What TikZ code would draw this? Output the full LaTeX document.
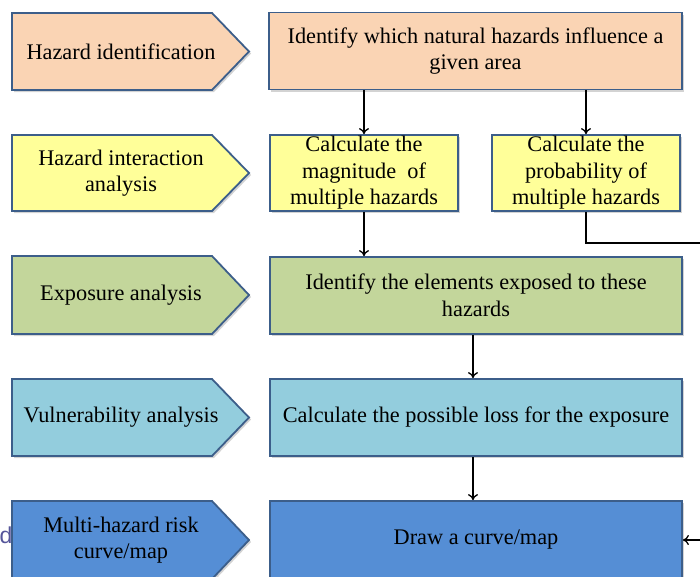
\documentclass[tikz,border=0pt]{standalone}
\usepackage{fontspec}
\setmainfont{Liberation Serif}
\newfontfamily\sansd{Liberation Sans}
\usetikzlibrary{arrows.meta,shadows}
\definecolor{bordc}{HTML}{3C5E8A}
\definecolor{cpeach}{HTML}{FAD4B4}
\definecolor{cyell}{HTML}{FFFF99}
\definecolor{cgreen}{HTML}{C3D69B}
\definecolor{clblue}{HTML}{93CDDD}
\definecolor{cdblue}{HTML}{558ED5}
\definecolor{cd}{HTML}{55559A}
\newcommand{\fsz}{\fontsize{22.3}{26.5}\selectfont}
\tikzset{
  shd/.style={drop shadow={opacity=0.35,shadow xshift=2pt,shadow yshift=-2pt}},
  lshape/.style={draw=bordc,line width=1.8pt,line join=miter,shd},
  lab/.style={font=\fsz,align=center,text=black,inner sep=0pt},
  rbox/.style={draw=bordc,line width=1.8pt,shd,font=\fsz,align=center,text=black,inner sep=0pt},
  arr/.style={-{To[length=6pt,width=10pt]},line width=1.3pt,black}
}
\begin{document}
\begin{tikzpicture}[x=1pt,y=-1pt]
\useasboundingbox (0,0) rectangle (700,576);
\clip (0,0) rectangle (700,576);
% left arrow shapes
\path[lshape,fill=cpeach] (12,13) -- (212,13) -- (249,51.5) -- (212,90) -- (12,90) -- cycle;
\node[lab] (l1) at (121,51.5) {Hazard identification};
\path[lshape,fill=cyell] (12,135) -- (212,135) -- (249,173) -- (212,211) -- (12,211) -- cycle;
\node[lab] (l2) at (121,173) {Hazard interaction\\analysis};
\path[lshape,fill=cgreen] (12,256) -- (212,256) -- (249,295) -- (212,334) -- (12,334) -- cycle;
\node[lab] (l3) at (121,295) {Exposure analysis};
\path[lshape,fill=clblue] (12,379) -- (212,379) -- (249,417.5) -- (212,456) -- (12,456) -- cycle;
\node[lab] (l4) at (121,417.5) {Vulnerability analysis};
\path[lshape,fill=cdblue] (12,501) -- (212,501) -- (249,540) -- (212,579) -- (12,579) -- cycle;
\node[lab] (l5) at (121,540) {Multi-hazard risk\\curve/map};
% partial text at left edge
\node[font=\sansd\fontsize{23}{27}\selectfont,text=cd,anchor=base west,inner sep=0pt] (dd) at (-0.5,543) {d};
% right boxes
\node[rbox,fill=cpeach,minimum width=413pt,minimum height=77pt] (r1) at (475.5,51) {Identify which natural hazards influence a\\given area};
\node[rbox,fill=cyell,minimum width=188pt,minimum height=76pt] (r2a) at (364,173) {Calculate the\\magnitude~ of\\multiple hazards};
\node[rbox,fill=cyell,minimum width=188pt,minimum height=76pt] (r2b) at (586,173) {Calculate the\\probability of\\multiple hazards};
\node[rbox,fill=cgreen,minimum width=412pt,minimum height=77pt] (r3) at (476,295.5) {Identify the elements exposed to these\\hazards};
\node[rbox,fill=clblue,minimum width=412pt,minimum height=77pt] (r4) at (476,417.5) {Calculate the possible loss for the exposure};
\node[rbox,fill=cdblue,minimum width=412pt,minimum height=78pt] (r5) at (476,540) {Draw a curve/map};
% connectors
\draw[arr] (r1.south -| r2a.north) -- (r2a.north);
\draw[arr] (r1.south -| r2b.north) -- (r2b.north);
\draw[arr] (r2a.south) -- (r2a.south |- r3.north);
\draw[arr] ([xshift=-3pt]r3.south) -- ([xshift=-3pt]r4.north);
\draw[arr] ([xshift=-3pt]r4.south) -- ([xshift=-3pt]r5.north);
\coordinate (far) at (730,243);
\draw[arr] (r2b.south) |- (far) |- (r5.east);
\end{tikzpicture}
\end{document}
